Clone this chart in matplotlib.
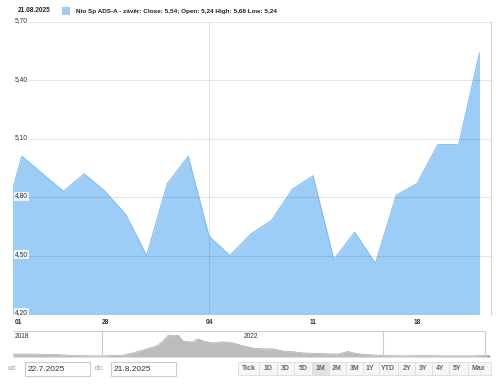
import matplotlib
matplotlib.use('Agg')
import matplotlib.pyplot as plt
from matplotlib.patches import Rectangle

plt.rcParams['font.family'] = ['Liberation Sans', 'DejaVu Sans']

# daily closes, 21.7.2025 - 21.8.2025 (trading day index)
day_idx = list(range(24))
closes = [4.62, 5.01, 4.92, 4.83, 4.92, 4.83, 4.71, 4.50, 4.87, 5.01,
          4.60, 4.50, 4.61, 4.68, 4.84, 4.91, 4.48, 4.62, 4.46, 4.81,
          4.87, 5.07, 5.07, 5.54]
y_ticks = [4.20, 4.50, 4.80, 5.10, 5.40, 5.70]
y_labels = ['4,20', '4,50', '4,80', '5,10', '5,40', '5,70']
x_tick_pos = [0.82, 5, 10, 15, 20]
x_tick_labels = ['01', '28', '04', '11', '18']

# navigator (whole history)
nav_year = [2018.70, 2018.99, 2019.28, 2019.57, 2019.86, 2020.01, 2020.30, 2020.45,
            2020.59, 2020.74, 2020.81, 2020.88, 2020.96, 2021.03, 2021.10, 2021.17,
            2021.25, 2021.32, 2021.39, 2021.47, 2021.61, 2021.76, 2021.90, 2022.05,
            2022.19, 2022.34, 2022.48, 2022.63, 2022.78, 2022.92, 2023.21, 2023.43,
            2023.58, 2023.65, 2023.80, 2024.09, 2024.38, 2024.67, 2024.96, 2025.35,
            2025.55, 2025.64]
nav_price = [8, 8, 7, 4, 3, 3, 5, 11, 19, 27, 32, 43, 59, 57, 59, 43, 41, 41, 49, 43,
             38, 41, 38, 30, 24, 22, 22, 16, 14, 11, 9, 8, 15, 11, 7, 4, 3, 4, 3, 3, 4, 4]

buttons = ['Tick', '1D', '3D', '5D', '1M', '2M', '3M', '1Y', 'YTD', '2Y', '3Y', '4Y', '5Y', 'Max']
btn_centers = [249, 268, 285, 303, 320, 337, 355, 370, 388, 407, 423, 440, 457, 478]

W, H = 500, 387
def box(l, t, r, b):
    return [l / W, 1 - b / H, (r - l) / W, (b - t) / H]

fig = plt.figure(figsize=(5, 3.87), dpi=100)

# main chart
ax = fig.add_axes(box(12.5, 22, 490.5, 314))
ax.set_xlim(0.553, 23.53)
ax.set_ylim(4.2, 5.7)
ax.fill_between(day_idx, closes, 4.0, color='#9bcdf6', lw=0, zorder=1)
ax.plot(day_idx, closes, color='#86bdee', lw=0.8, zorder=2)
for v in y_ticks:
    ax.axhline(v, color='black', alpha=0.1, lw=0.8, zorder=3)
ax.axvline(10, color='black', alpha=0.1, lw=0.8, zorder=3)
for v, lab in zip(y_ticks, y_labels):
    ax.text(0.67, v + 0.006, lab, fontsize=4.8, color='#333333', va='center', ha='left', zorder=4,
            bbox=dict(boxstyle='square,pad=0.15', fc='white', ec='none', alpha=0.8))
ax.set_yticks([])
ax.set_xticks(x_tick_pos)
ax.set_xticklabels(x_tick_labels, fontsize=4.8, fontweight='bold', color='#333333')
ax.tick_params(axis='x', length=0, pad=3.5)
for s in ['top', 'left', 'bottom']:
    ax.spines[s].set_visible(False)
ax.spines['right'].set_color('#d5d5d5')
ax.spines['right'].set_linewidth(0.8)

# navigator
nav = fig.add_axes(box(13, 331, 490, 357))
nav.set_xlim(2018.70, 2025.64)
nav.set_ylim(0, 70)
nav.fill_between(nav_year, nav_price, 0, color='#bcbcbc', lw=0)
nav.plot(nav_year, nav_price, color='#a8a8a8', lw=0.5)
sel = [i for i, y in enumerate(nav_year) if y >= 2025.55]
nav.fill_between([nav_year[i] for i in sel], [nav_price[i] for i in sel], 0, color='#6fa9e3', lw=0)
nav.plot([2018.70, 2025.57], [70, 70], color='#d0d0d0', lw=0.8)
for yr in [2020.0, 2024.08, 2025.57]:
    nav.plot([yr, yr], [0, 70], color='#cccccc', lw=0.8)
nav.text(2018.73, 55, '2018', fontsize=4.8, color='#333333', va='center')
nav.text(2022.06, 55, '2022', fontsize=4.8, color='#333333', va='center')
nav.set_xticks([])
nav.set_yticks([])
for s in nav.spines.values():
    s.set_visible(False)

# header
fig.text(18 / W, 1 - 10 / H, '21.08.2025', fontsize=4.7, fontweight='bold', color='#222222', va='center')
fig.add_artist(Rectangle((62 / W, 1 - 15 / H), 8 / W, 8 / H, transform=fig.transFigure,
                         fc='#9bcdf6', ec='none'))
fig.text(76 / W, 1 - 11 / H, 'Nio Sp ADS-A - závěr: Close: 5,54; Open: 5,24 High: 5,68 Low: 5,24',
         fontsize=4.6, fontweight='bold', color='#222222', va='center')

# date inputs
fig.text(8 / W, 1 - 369 / H, 'od:', fontsize=5, color='#999999', va='center')
fig.text(95 / W, 1 - 369 / H, 'do:', fontsize=5, color='#999999', va='center')
for l, r, txt in [(25, 90, '22.7.2025'), (111, 176, '21.8.2025')]:
    fig.add_artist(Rectangle((l / W, 1 - 376 / H), (r - l) / W, 14 / H, transform=fig.transFigure,
                             fc='white', ec='#cccccc', lw=0.8))
    fig.text((l + 3) / W, 1 - 369.5 / H, txt, fontsize=6, color='#333333', va='center')

# range buttons
edges = [238] + [(a + b) / 2 for a, b in zip(btn_centers[:-1], btn_centers[1:])] + [491]
for i, lab in enumerate(buttons):
    fc = '#e2e2e2' if lab == '1M' else '#f6f6f6'
    fig.add_artist(Rectangle((edges[i] / W, 1 - 375 / H), (edges[i + 1] - edges[i]) / W, 13 / H,
                             transform=fig.transFigure, fc=fc, ec='#dddddd', lw=0.6))
    fig.text(btn_centers[i] / W, 1 - 368.5 / H, lab, fontsize=5, fontweight='bold', color='#666666',
             ha='center', va='center')

fig.savefig('out.png', dpi=100)
